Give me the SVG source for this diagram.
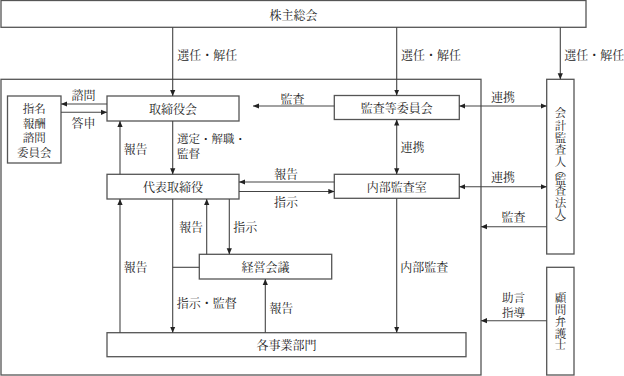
<svg xmlns="http://www.w3.org/2000/svg" width="624" height="376" viewBox="0 0 624 376">
<defs>
<marker id="ah" viewBox="0 0 6 6" refX="6" refY="3" markerWidth="6" markerHeight="6" orient="auto-start-reverse" markerUnits="userSpaceOnUse">
<path d="M0,0.4 L6,3 L0,5.6 z" fill="#222"/>
</marker>
<style>
.box{fill:#fff;stroke:#555;stroke-width:1.3}
.frame{fill:none;stroke:#555;stroke-width:1.3}
.ln{fill:none;stroke:#444;stroke-width:1.1}
.a{marker-end:url(#ah)}
.d{marker-start:url(#ah);marker-end:url(#ah)}
text{font-family:"Noto Serif CJK JP","Noto Sans CJK JP",serif;font-size:12px;fill:#222;dominant-baseline:central}
.m{text-anchor:middle}
.vs{font-size:11.5px}
</style>
</defs>
<rect class="frame" x="1" y="79.3" width="480" height="295.7"/>
<g id="shareholders"><rect class="box" x="1" y="0.5" width="585" height="26.8"/><text class="m" x="293.5" y="14.5">株主総会</text></g>
<g id="nomination"><rect class="box" x="7.5" y="96" width="53.5" height="67"/><text class="m vs"><tspan x="34.3" y="108">指名</tspan><tspan x="34.3" y="122.5">報酬</tspan><tspan x="34.3" y="137">諮問</tspan><tspan x="34.3" y="151.5">委員会</tspan></text></g>
<g id="board"><rect class="box" x="107" y="96" width="132" height="25"/><text class="m" x="173" y="108.5">取締役会</text></g>
<g id="audit-committee"><rect class="box" x="334.3" y="95.5" width="125" height="24"/><text class="m" x="396.7" y="107.5">監査等委員会</text></g>
<g id="ceo"><rect class="box" x="107" y="174.3" width="132" height="24.7"/><text class="m" x="173" y="186.7">代表取締役</text></g>
<g id="internal-audit"><rect class="box" x="334.3" y="174.3" width="125" height="24"/><text class="m" x="396.7" y="186.3">内部監査室</text></g>
<g id="management"><rect class="box" x="199.3" y="254.3" width="132.4" height="24.7"/><text class="m" x="265.5" y="266.8">経営会議</text></g>
<g id="divisions"><rect class="box" x="107" y="332.7" width="359" height="24"/><text class="m" x="286.5" y="344.7">各事業部門</text></g>
<g id="auditor"><rect class="box" x="546.7" y="79.3" width="27.3" height="174.7"/><text class="m vs"><tspan x="560.5" y="111.7">会</tspan><tspan x="560.5" y="124.5">計</tspan><tspan x="560.5" y="137.3">監</tspan><tspan x="560.5" y="149.3">査</tspan><tspan x="560.5" y="160.5">人</tspan><tspan x="560.5" y="170">︵</tspan><tspan x="560.5" y="179">監</tspan><tspan x="560.5" y="190.3">査</tspan><tspan x="560.5" y="201.7">法</tspan><tspan x="560.5" y="213">人</tspan><tspan x="560.5" y="222">︶</tspan></text></g>
<g id="lawyer"><rect class="box" x="546.7" y="267.3" width="27.3" height="107.7"/><text class="m vs"><tspan x="560.5" y="296.7">顧</tspan><tspan x="560.5" y="308.5">問</tspan><tspan x="560.5" y="320.5">弁</tspan><tspan x="560.5" y="332.5">護</tspan><tspan x="560.5" y="344.3">士</tspan></text></g>
<g id="connectors">
<path class="ln a" d="M172.7,27.3 V96"/>
<path class="ln a" d="M396.7,27.3 V95.5"/>
<path class="ln a" d="M560.3,27.3 V79.3"/>
<path class="ln a" d="M107,104 H61"/>
<path class="ln a" d="M61,112.3 H107"/>
<path class="ln a" d="M334.3,106 H253"/>
<path class="ln d" d="M459.3,106 H546.7"/>
<path class="ln a" d="M120,174.3 V121"/>
<path class="ln a" d="M172.7,121 V174.3"/>
<path class="ln d" d="M396.7,119.5 V174.3"/>
<path class="ln a" d="M334.3,182 H239"/>
<path class="ln a" d="M239,191.5 H334.3"/>
<path class="ln d" d="M459.3,186.7 H546.7"/>
<path class="ln a" d="M546.7,226.7 H481"/>
<path class="ln a" d="M120,332.7 V199"/>
<path class="ln a" d="M172.7,199 V332.7"/>
<path class="ln" d="M172.7,267.3 H199.3"/>
<path class="ln a" d="M206.7,254.3 V199"/>
<path class="ln a" d="M229.3,199 V254.3"/>
<path class="ln a" d="M265.3,332.7 V279"/>
<path class="ln a" d="M396.7,198.3 V332.7"/>
<path class="ln a" d="M546.7,320.7 H481"/>
</g>
<g id="labels">
<text x="177.3" y="54.3">選任・解任</text>
<text x="401" y="54.3">選任・解任</text>
<text x="564.3" y="54.3">選任・解任</text>
<text class="m" x="83.5" y="94">諮問</text>
<text class="m" x="83.5" y="122.7">答申</text>
<text class="m" x="292.5" y="98.3">監査</text>
<text class="m" x="503" y="96.7">連携</text>
<text class="m" x="135.5" y="148.3">報告</text>
<text class="vs"><tspan x="177" y="137.5">選定・解職・</tspan><tspan x="177" y="152.5">監督</tspan></text>
<text class="m" x="412.5" y="146.7">連携</text>
<text class="m" x="286" y="173.3">報告</text>
<text class="m" x="286" y="201">指示</text>
<text class="m" x="503" y="176.7">連携</text>
<text class="m" x="513.5" y="216.7">監査</text>
<text class="m" x="191" y="226.7">報告</text>
<text class="m" x="245.3" y="226.7">指示</text>
<text class="m" x="135.5" y="266.7">報告</text>
<text class="m" x="424.3" y="266.7">内部監査</text>
<text class="m vs"><tspan x="513.5" y="296.5">助言</tspan><tspan x="513.5" y="312">指導</tspan></text>
<text x="176.7" y="302.3">指示・監督</text>
<text class="m" x="281.3" y="307.3">報告</text>
</g>
</svg>
